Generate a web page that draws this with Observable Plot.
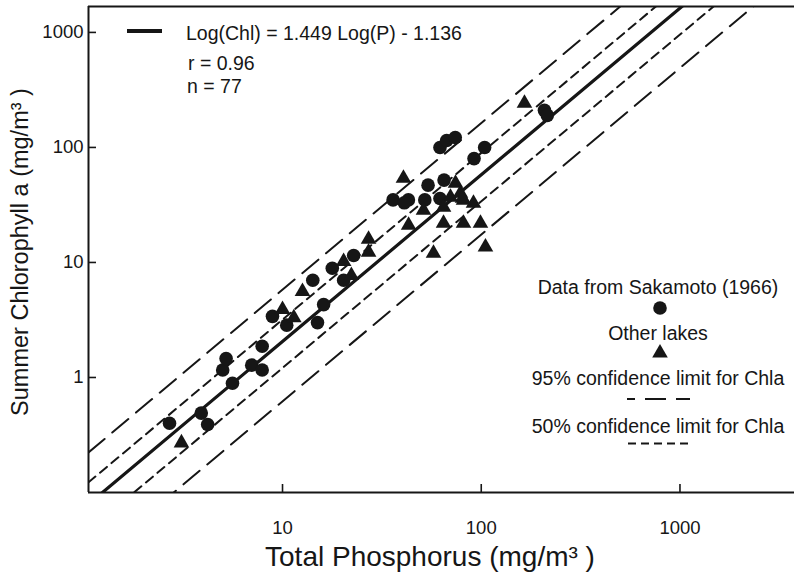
<!DOCTYPE html>
<html>
<head>
<meta charset="utf-8">
<script src="https://cdn.jsdelivr.net/npm/d3@7"></script>
<script src="https://cdn.jsdelivr.net/npm/@observablehq/plot@0.6"></script>
<style>
  html, body { margin: 0; padding: 0; background: #fff; }
  #chart { width: 794px; height: 575px; }
</style>
</head>
<body>
<div id="chart"></div>
<script>
// Lakes from Sakamoto (1966): total phosphorus and summer chlorophyll a (mg/m³)
const sakamotoP   = [2.7, 3.9, 4.2, 5.0, 5.2, 5.6, 7.0, 7.9, 7.9, 8.9, 10.5, 14.2, 16.1, 15.0, 17.8, 22.8, 20.3, 36, 43, 41, 54, 52, 65, 62, 62, 67, 74, 92, 104, 208, 215];
const sakamotoChl = [0.40, 0.49, 0.39, 1.16, 1.46, 0.89, 1.28, 1.16, 1.87, 3.4, 2.85, 7.0, 4.3, 3.0, 8.9, 11.5, 7.0, 35, 35, 33, 47, 35, 52, 36, 100, 115, 122, 80, 100, 210, 190];

// Other lakes
const otherP   = [3.1, 10.0, 11.4, 12.6, 20.3, 22.2, 27.1, 27.1, 40.6, 43.1, 51.2, 57.5, 64.6, 81.4, 99.1, 105, 91.4, 74.2, 70.0, 78.6, 81.4, 64.6, 80.5, 165];
const otherChl = [0.27, 3.9, 3.3, 5.6, 10.2, 7.7, 15.9, 12.3, 54, 21.1, 28.4, 12.0, 21.9, 21.9, 21.9, 13.6, 32.7, 48.8, 36.9, 39.9, 34.7, 30.2, 36.1, 242];

// Regression: Log(Chl) = 1.449 Log(P) - 1.136
const slope = 1.449;
const intercept = -1.136;
const rValue = 0.96;
const nValue = 77;

// Confidence limits as offsets from the regression line (log10 units)
const limit95 = [0.45, -0.52];
const limit50 = [0.19, -0.23];

const xTicks = [10, 100, 1000];
const yTicks = [1, 10, 100, 1000];
const xDomain = [1.056, 3770];
const yDomain = [0.1, 1680];

const sakamoto = sakamotoP.map((p, i) => ({p, chl: sakamotoChl[i]}));
const other = otherP.map((p, i) => ({p, chl: otherChl[i]}));

// straight line in log-log space across the whole x domain
const lineAt = (offset) => xDomain.map(p => ({p, chl: Math.pow(10, slope * Math.log10(p) + intercept + offset)}));

const ink = "#161616";
const font = "'Liberation Sans', Arial, Helvetica, sans-serif";

// plot area geometry (pixels)
const W = 794, H = 575, mL = 88, mR = 0, mT = 6, mB = 83;
const tickLen = 8;

const chart = Plot.plot({
  width: W,
  height: H,
  marginLeft: mL,
  marginRight: mR,
  marginTop: mT,
  marginBottom: mB,
  style: {fontFamily: font, fontSize: "18.5px", color: ink, background: "#fff"},
  x: {type: "log", domain: xDomain, ticks: xTicks, tickFormat: d => String(d), tickSize: 0, tickPadding: 28, label: null},
  y: {type: "log", domain: yDomain, ticks: yTicks, tickFormat: d => String(d), tickSize: 0, tickPadding: 5, label: null},
  marks: [
    // frame: left, top and bottom edges
    Plot.ruleX([xDomain[0]], {y1: yDomain[0], y2: yDomain[1], stroke: ink, strokeWidth: 2}),
    Plot.ruleY([yDomain[0], yDomain[1]], {x1: xDomain[0], x2: xDomain[1], stroke: ink, strokeWidth: 2}),
    // inward tick marks
    Plot.tickY(yTicks, {y: d => d, stroke: ink, strokeWidth: 1.6, insetRight: W - mL - mR - tickLen}),
    Plot.tickX(xTicks, {x: d => d, stroke: ink, strokeWidth: 1.6, insetTop: H - mT - mB - tickLen}),
    // confidence limits
    ...limit95.map(o => Plot.line(lineAt(o), {x: "p", y: "chl", stroke: ink, strokeWidth: 2, strokeDasharray: "21,10", clip: true})),
    ...limit50.map(o => Plot.line(lineAt(o), {x: "p", y: "chl", stroke: ink, strokeWidth: 2, strokeDasharray: "9,6", clip: true})),
    // regression line
    Plot.line(lineAt(0), {x: "p", y: "chl", stroke: ink, strokeWidth: 3.2, clip: true}),
    // observations
    Plot.dot(sakamoto, {x: "p", y: "chl", r: 6.8, fill: ink, stroke: "none"}),
    Plot.dot(other, {x: "p", y: "chl", r: 5.8, symbol: "triangle", fill: ink, stroke: "none"})
  ]
});

document.getElementById("chart").appendChild(chart);

// annotations, legend and axis titles
const svg = d3.select(chart);
const g = svg.append("g").attr("fill", ink).attr("font-family", font).attr("text-anchor", "start");

// axis titles
g.append("text")
  .attr("x", 430).attr("y", 556)
  .attr("text-anchor", "middle").attr("dominant-baseline", "central")
  .attr("font-size", 28)
  .text("Total Phosphorus (mg/m³ )");
g.append("text")
  .attr("transform", "translate(20,252) rotate(-90)")
  .attr("text-anchor", "middle").attr("dominant-baseline", "central")
  .attr("font-size", 23.5)
  .text("Summer Chlorophyll a (mg/m³ )");

// regression equation
g.append("line").attr("x1", 127).attr("x2", 162).attr("y1", 31).attr("y2", 31)
  .attr("stroke", ink).attr("stroke-width", 4);
const note = (x, y, s) => g.append("text").attr("x", x).attr("y", y)
  .attr("text-anchor", "start").attr("dominant-baseline", "central").attr("font-size", 19.5).text(s);
note(186, 33, `Log(Chl) = ${slope} Log(P) - ${Math.abs(intercept)}`);
note(188, 63, `r = ${rValue}`);
note(187, 86, `n = ${nValue}`);

// legend
const lx = 658;
const legendText = (y, s) => g.append("text").attr("x", lx).attr("y", y)
  .attr("text-anchor", "middle").attr("dominant-baseline", "central").attr("font-size", 19.5).text(s);
legendText(287, "Data from Sakamoto (1966)");
g.append("circle").attr("cx", 660).attr("cy", 308).attr("r", 6.8);
legendText(333, "Other lakes");
g.append("path").attr("transform", "translate(660,353)")
  .attr("d", d3.symbol(d3.symbolTriangle, Math.PI * 5.8 * 5.8)());
legendText(378, "95% confidence limit for Chla");
g.append("line").attr("x1", 627).attr("x2", 690).attr("y1", 399).attr("y2", 399)
  .attr("stroke", ink).attr("stroke-width", 2).attr("stroke-dasharray", "21,10").attr("stroke-dashoffset", 13);
legendText(426, "50% confidence limit for Chla");
g.append("line").attr("x1", 628).attr("x2", 688).attr("y1", 443.5).attr("y2", 443.5)
  .attr("stroke", ink).attr("stroke-width", 2).attr("stroke-dasharray", "8,5");
</script>
</body>
</html>
